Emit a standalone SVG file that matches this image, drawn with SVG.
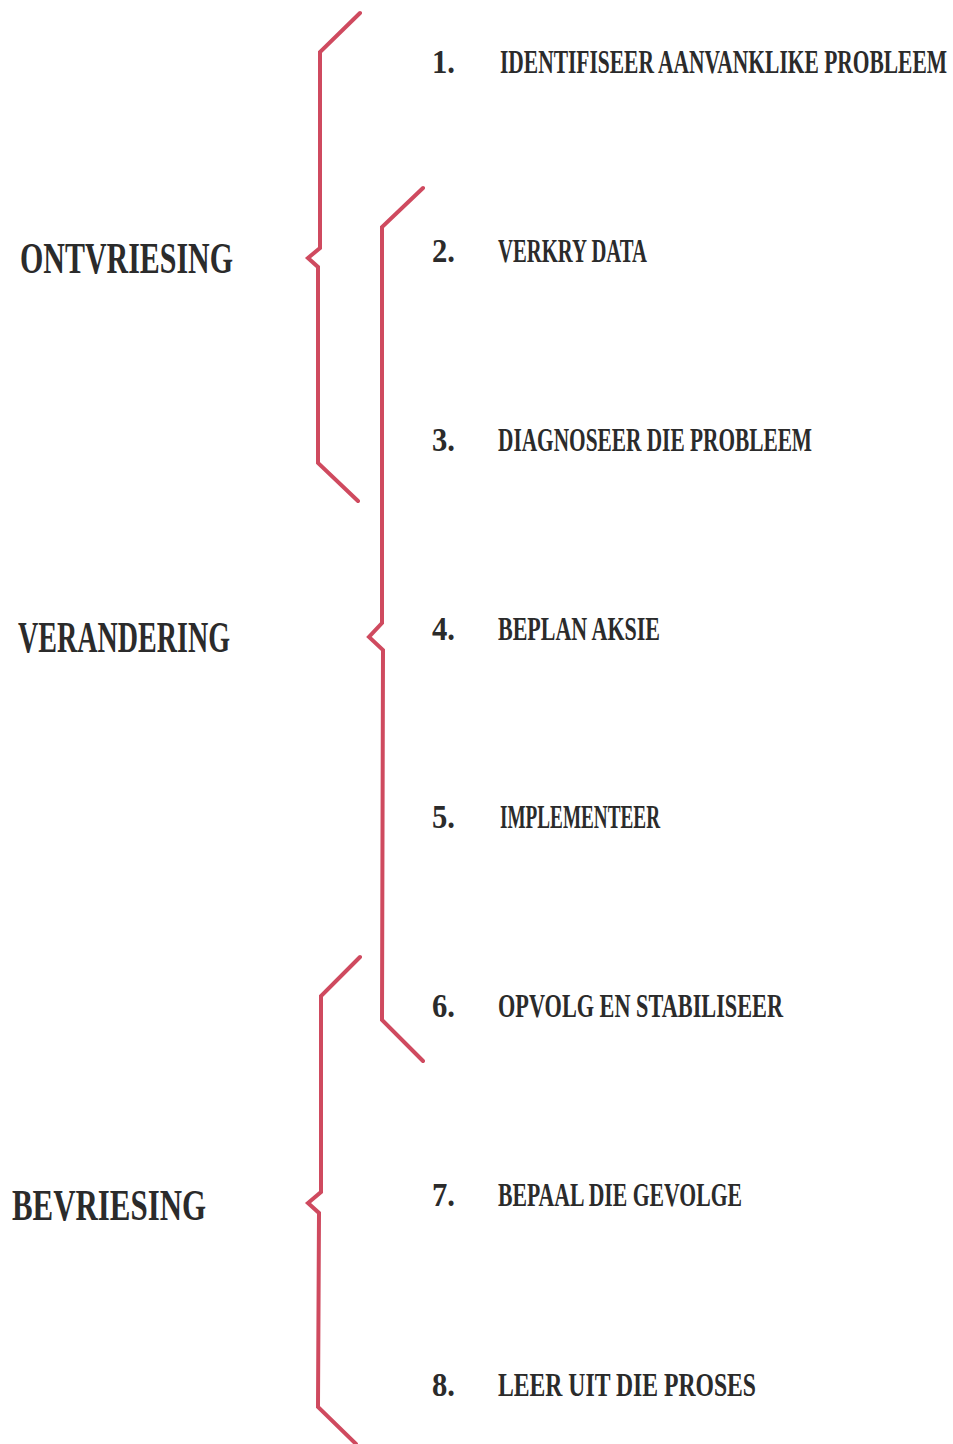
<svg xmlns="http://www.w3.org/2000/svg" width="953" height="1444" viewBox="0 0 953 1444">
<style>
.br{fill:none;stroke:#cf4a5f;stroke-width:4;stroke-linejoin:miter;stroke-linecap:round}
.ph{font-family:"Liberation Serif",serif;font-weight:bold;font-size:32px;fill:#2b2b2b}
.it{font-family:"Liberation Serif",serif;font-weight:bold;font-size:22px;fill:#2b2b2b}
.it1{font-family:"Liberation Serif",serif;font-weight:bold;font-size:20px;fill:#2b2b2b}
</style>
<rect width="953" height="1444" fill="#ffffff"/>
<g id="connectors">
<path class="br" d="M360,13 L320,52 L320,248 L308,258 L318,267 L318,463 L358,501"/>
<path class="br" d="M423,188 L382,227 L382,623 L369,637 L383,650 L382,1020 L423,1061"/>
<path class="br" d="M360,957 L321,996 L321,1192 L308,1203 L319,1213 L318,1407 L356,1444"/>
</g>
<g id="phase-ontvriesing"><text class="ph" transform="translate(20,273) scale(1,1.4)" x="0" y="0" textLength="213" lengthAdjust="spacingAndGlyphs">ONTVRIESING</text></g>
<g id="phase-verandering"><text class="ph" transform="translate(18,652) scale(1,1.4)" x="0" y="0" textLength="212" lengthAdjust="spacingAndGlyphs">VERANDERING</text></g>
<g id="phase-bevriesing"><text class="ph" transform="translate(12,1220) scale(1,1.4)" x="0" y="0" textLength="194" lengthAdjust="spacingAndGlyphs">BEVRIESING</text></g>
<g id="step1"><text class="it" transform="translate(432,73) scale(1,1.5)" x="0" y="0" textLength="23" lengthAdjust="spacingAndGlyphs">1.</text><text class="it1" transform="translate(500,73) scale(1,1.65)" x="0" y="0" textLength="447" lengthAdjust="spacingAndGlyphs">IDENTIFISEER AANVANKLIKE PROBLEEM</text></g>
<g id="step2"><text class="it" transform="translate(432,262) scale(1,1.5)" x="0" y="0" textLength="23" lengthAdjust="spacingAndGlyphs">2.</text><text class="it" transform="translate(498,262) scale(1,1.5)" x="0" y="0" textLength="149" lengthAdjust="spacingAndGlyphs">VERKRY DATA</text></g>
<g id="step3"><text class="it" transform="translate(432,451) scale(1,1.5)" x="0" y="0" textLength="23" lengthAdjust="spacingAndGlyphs">3.</text><text class="it" transform="translate(498,451) scale(1,1.5)" x="0" y="0" textLength="314" lengthAdjust="spacingAndGlyphs">DIAGNOSEER DIE PROBLEEM</text></g>
<g id="step4"><text class="it" transform="translate(432,640) scale(1,1.5)" x="0" y="0" textLength="23" lengthAdjust="spacingAndGlyphs">4.</text><text class="it" transform="translate(498,640) scale(1,1.5)" x="0" y="0" textLength="162" lengthAdjust="spacingAndGlyphs">BEPLAN AKSIE</text></g>
<g id="step5"><text class="it" transform="translate(432,828) scale(1,1.5)" x="0" y="0" textLength="23" lengthAdjust="spacingAndGlyphs">5.</text><text class="it" transform="translate(500,828) scale(1,1.5)" x="0" y="0" textLength="160" lengthAdjust="spacingAndGlyphs">IMPLEMENTEER</text></g>
<g id="step6"><text class="it" transform="translate(432,1017) scale(1,1.5)" x="0" y="0" textLength="23" lengthAdjust="spacingAndGlyphs">6.</text><text class="it" transform="translate(498,1017) scale(1,1.5)" x="0" y="0" textLength="285" lengthAdjust="spacingAndGlyphs">OPVOLG EN STABILISEER</text></g>
<g id="step7"><text class="it" transform="translate(432,1206) scale(1,1.5)" x="0" y="0" textLength="23" lengthAdjust="spacingAndGlyphs">7.</text><text class="it" transform="translate(498,1206) scale(1,1.5)" x="0" y="0" textLength="244" lengthAdjust="spacingAndGlyphs">BEPAAL DIE GEVOLGE</text></g>
<g id="step8"><text class="it" transform="translate(432,1396) scale(1,1.5)" x="0" y="0" textLength="23" lengthAdjust="spacingAndGlyphs">8.</text><text class="it" transform="translate(498,1396) scale(1,1.5)" x="0" y="0" textLength="258" lengthAdjust="spacingAndGlyphs">LEER UIT DIE PROSES</text></g>
</svg>
